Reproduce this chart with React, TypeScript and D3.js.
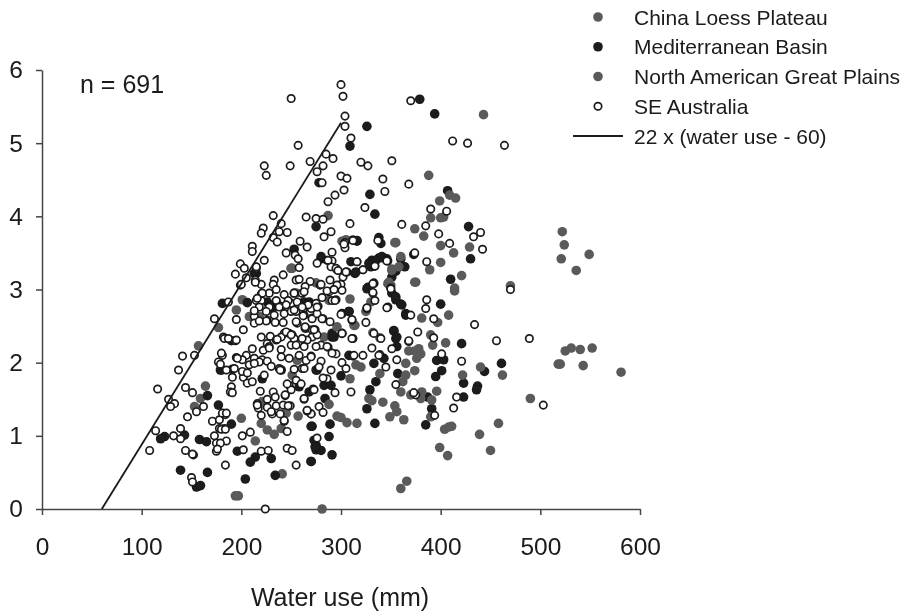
import { useEffect, useRef } from 'react';
import * as d3 from 'd3';

type Pt = [number, number];

// water use (mm), yield (t/ha)
const chinaLoess: Pt[] = [
  [157,2.23],[164,1.68],[159,1.51],[153,1.40],[177,2.48],[195,2.72],[201,2.86],[197,0.18],[194,0.18],[200,1.24],
  [220,1.17],[226,1.08],[233,1.02],[240,1.10],[241,0.48],[218,2.63],[214,0.93],[221,1.47],[245,1.31],[257,1.27],
  [250,3.29],[275,3.09],[255,2.95],[251,1.83],[256,2.03],[287,4.01],[281,0],
  [253,2.95],[208,2.63],[251,3.29],[250,3.29],[283,2.35],[288,2.85],[305,3.68],
];
const mediterranean: Pt[] = [
  [278,4.46],[275,3.86],[253,3.55],[215,3.22],[309,4.96],[326,5.23],[379,5.60],[394,5.40],[329,4.30],[334,4.03],
  [407,4.35],[428,3.86],[316,3.66],[338,3.71],[340,3.63],[430,3.42],[410,3.14],[373,3.48],[360,3.42],[364,3.31],
  [355,3.25],[351,3.17],[338,3.43],[343,3.43],[331,3.40],[346,3.42],[330,3.31],[310,3.38],[314,3.22],[280,3.42],
  [327,3.03],[351,2.95],[355,2.86],[360,2.80],[365,2.65],[400,2.80],[353,2.43],[355,2.33],[356,2.22],[421,2.26],
  [396,2.03],[403,2.04],[401,1.89],[395,1.81],[444,1.88],[461,1.99],[423,1.72],[437,1.68],[436,1.63],[423,1.53],
  [385,1.15],[391,1.37],[387,1.53],[357,1.85],[335,1.74],[329,1.63],[326,1.37],[334,1.17],[289,1.16],[271,1.13],
  [288,0.99],[275,0.87],[275,0.81],[280,0.80],[291,0.74],[270,0.65],[308,2.70],[291,2.35],[308,2.10],[333,1.99],
  [343,2.06],[276,1.90],[300,1.82],[283,1.69],[290,1.69],[284,1.51],[268,1.60],[181,2.81],[206,2.82],[190,2.30],
  [179,1.90],[191,1.91],[166,1.55],[177,1.42],[190,1.16],[143,1.01],[123,0.99],[119,0.96],[158,0.95],[165,0.92],
  [139,0.53],[155,0.30],[159,0.32],[166,0.50],[204,0.41],[196,0.79],[214,0.71],[209,0.64],[230,0.69],[234,0.46],
  [270,0.65],[270,1.13],[226,2.83],[231,2.74],[240,1.90],[221,1.78],[275,1.90],[258,1.67],[273,0.94],[274,0.85],
  [228,2.76],[235,2.83],[213,3.22],[293,2.35],[301,2.40],[301,2.67],[180,1.90],[335,3.40],[341,3.45],[328,3.36],
  [315,3.24],[326,3.01],[355,2.90],[361,2.79],[365,2.67],[308,2.70],[280,3.45],[353,2.44],[356,2.35],[291,2.40],
  [263,2.83],[268,2.83],[316,3.67],
];
const greatPlains: Pt[] = [
  [443,5.39],[388,4.56],[409,4.29],[415,4.25],[399,4.21],[390,3.98],[400,3.98],[403,3.99],[374,3.83],[383,3.73],
  [301,3.66],[355,3.64],[400,3.60],[429,3.58],[413,3.50],[400,3.37],[421,3.19],[414,3.02],[375,3.10],[389,3.27],
  [351,3.28],[347,3.08],[470,3.05],[522,3.79],[524,3.61],[521,3.42],[549,3.48],[536,3.26],[414,2.98],[408,2.65],
  [381,2.61],[397,2.55],[405,2.27],[390,2.38],[392,2.24],[365,1.99],[368,2.16],[378,2.19],[374,2.16],[380,2.12],
  [376,2.06],[440,1.94],[462,1.83],[422,1.83],[396,1.61],[525,2.16],[531,2.20],[540,2.18],[552,2.20],[518,1.98],
  [520,1.98],[543,1.96],[581,1.87],[490,1.51],[458,1.17],[439,1.02],[450,0.80],[399,0.84],[407,0.73],[404,1.09],
  [408,1.12],[411,1.13],[390,1.26],[391,1.49],[381,1.60],[370,1.56],[380,1.51],[360,1.60],[362,1.74],[365,1.83],
  [374,1.89],[339,1.85],[331,1.48],[328,1.51],[342,1.46],[354,1.41],[349,1.26],[356,1.33],[363,1.22],[316,1.17],
  [306,1.18],[300,1.25],[296,1.27],[366,0.38],[360,0.28],[309,2.87],[314,2.51],[332,2.41],[296,2.49],[320,1.94],
  [315,1.97],[309,1.78],[288,1.43],[350,3.06],
  [325,2.70],[330,2.83],[348,3.10],[351,3.26],[358,3.31],[374,3.10],[354,3.64],[360,3.45],[339,2.34],[313,2.51],
];
const seAustralia: Pt[] = [
  [250,5.61],[257,4.97],[223,4.69],[225,4.56],[249,4.69],[269,4.75],[276,4.61],[232,4.01],[265,3.99],[275,3.97],
  [222,3.84],[220,3.77],[240,3.90],[238,3.79],[246,3.78],[232,3.71],[236,3.65],[259,3.66],[266,3.58],[211,3.59],
  [211,3.52],[245,3.50],[254,3.47],[257,3.42],[276,3.36],[223,3.40],[199,3.35],[194,3.21],[203,3.29],[205,3.16],
  [215,3.29],[214,3.13],[258,3.30],[242,3.20],[233,3.13],[255,3.13],[258,3.14],[269,3.11],[220,3.07],[232,3.07],
  [199,3.06],[264,3.04],
  [300,5.80],[302,5.64],[304,5.37],[304,5.23],[310,5.07],[370,5.58],[412,5.03],[427,5.00],[464,4.97],[285,4.85],
  [292,4.79],[282,4.69],[281,4.46],[320,4.74],[327,4.69],[351,4.76],[300,4.55],[306,4.52],[342,4.51],[344,4.34],
  [368,4.44],[303,4.36],[294,4.29],[287,4.20],[324,4.12],[390,4.10],[406,4.07],[282,3.96],[309,3.90],[361,3.89],
  [385,3.87],[398,3.76],[440,3.78],[433,3.72],[290,3.79],[283,3.72],[304,3.64],[304,3.57],[312,3.68],[337,3.67],
  [409,3.63],[442,3.55],[374,3.50],[386,3.38],[347,3.39],[334,3.32],[322,3.27],[316,3.38],[306,3.24],[302,3.17],
  [296,3.27],[291,3.39],[291,3.51],[286,3.40],[290,3.31],[289,3.13],[300,3.07],[333,3.09],[350,3.02],
  [470,3.00],[386,2.86],[385,2.74],[393,2.60],[434,2.52],[456,2.30],[489,2.33],[377,2.42],[393,2.34],[368,2.29],
  [351,2.19],[356,2.04],[401,2.12],[421,2.02],[416,1.53],[413,1.38],[394,1.28],[375,1.56],[373,1.59],[503,1.42],
  [345,1.94],[355,1.70],[279,3.06],[293,3.00],[301,2.99],[333,3.08],[332,2.95],[334,2.85],[350,3.01],[347,2.76],
  [370,2.65],[281,2.89],[295,2.86],[291,2.85],[326,2.74],[300,2.66],[311,2.58],[325,2.55],[340,2.33],[331,2.20],
  [339,2.11],[322,2.10],[312,2.09],[312,2.33],[301,2.40],[282,2.60],[289,2.56],[271,2.61],[277,2.77],[274,2.45],
  [271,2.35],[280,2.24],[287,2.21],[295,2.12],[301,2.00],[305,1.92],[270,2.09],[280,2.02],[290,1.90],[310,1.60],
  [294,1.59],[286,1.78],[282,1.79],[272,1.64],[278,1.40],[282,1.32],[270,1.30],
  [200,3.07],[187,2.83],[195,2.59],[173,2.60],[202,2.45],[182,2.35],[194,2.30],[153,2.10],[141,2.09],[137,1.90],
  [181,2.10],[177,2.01],[195,2.07],[185,1.90],[191,1.80],[144,1.66],[151,1.59],[116,1.64],[162,1.40],[155,1.33],
  [146,1.26],[127,1.50],[133,1.44],[129,1.40],[184,1.29],[171,1.20],[178,1.22],[183,1.10],[190,1.67],[189,1.60],
  [191,1.59],[139,1.10],[114,1.07],[132,1.00],[139,0.96],[108,0.80],[144,0.80],[152,0.74],[150,0.43],[151,0.37],
  [173,1.00],[178,1.10],[175,0.90],[185,0.93],[175,0.79],[184,0.60],[202,0.81],[201,1.00],[209,1.05],[224,0],
  [220,0.79],[227,0.80],[255,0.60],[246,0.83],[251,0.80],[246,1.06],[243,1.20],[270,1.30],[266,1.34],[263,1.50],
  [273,1.63],[276,0.97],
  [220,2.94],[228,2.95],[243,2.93],[215,2.85],[220,2.85],[235,2.85],[228,2.76],[240,2.77],[250,2.81],[256,2.83],
  [261,2.95],[268,2.79],[275,2.81],[218,2.76],[225,2.70],[233,2.65],[243,2.67],[255,2.70],[262,2.72],[270,2.74],
  [213,2.63],[213,2.54],[226,2.58],[234,2.55],[242,2.55],[256,2.54],[265,2.47],[271,2.60],[276,2.67],[248,2.40],
  [243,2.40],[220,2.35],[229,2.36],[240,2.35],[251,2.38],[271,2.45],[276,2.38],[226,2.26],[235,2.31],[211,2.19],
  [222,2.17],[228,2.22],[240,2.18],[250,2.24],[258,2.26],[266,2.31],[275,2.22],[205,2.10],[213,2.06],[221,2.04],
  [201,2.04],[218,2.01],[226,2.02],[230,1.95],[248,2.06],[258,2.10],[265,2.03],[270,2.08],[253,1.91],[261,1.92],
  [208,1.97],[213,1.99],[202,1.80],[206,1.72],[211,1.74],[223,1.83],[255,1.76],[248,1.69],[260,1.71],[219,1.61],
  [226,1.50],[232,1.60],[234,1.53],[244,1.55],[250,1.63],[216,1.44],[217,1.38],[220,1.28],[226,1.39],[231,1.30],
  [235,1.41],[239,1.30],[242,1.42],[249,1.41],
  [215,3.31],[214,3.10],[235,3.00],[221,2.95],[216,2.88],[247,2.85],[263,2.97],[280,3.07],[296,3.06],[295,3.29],
  [305,3.24],[288,2.97],[294,2.85],[238,2.76],[245,2.79],[213,2.71],[225,2.57],[218,2.57],[250,2.70],[263,2.65],
  [264,2.47],[273,2.45],[245,2.42],[236,2.32],[253,2.33],[263,2.22],[240,2.08],[228,2.20],[196,2.06],[180,2.13],
  [179,1.98],[183,2.33],[187,2.33],[195,2.31],[201,1.88],[238,1.92],[278,1.94],[291,2.13],[297,3.26],[287,3.40],
  [305,3.24],[286,2.98],[293,3.00],[253,2.95],[267,2.79],[276,2.76],[261,2.76],[253,2.72],[262,2.64],[281,2.60],
  [264,2.49],[255,2.56],[250,2.38],[261,2.33],[255,2.24],[286,2.22],[311,2.33],[311,2.59],[326,2.75],[332,3.08],
  [332,2.96],[346,2.75],[316,3.38],[334,3.32],[346,3.39],[322,3.27],[312,3.67],[303,3.62],[333,2.40],[368,2.30],
  [313,2.10],[338,2.10],[193,1.92],[206,1.86],[239,1.90],[263,1.92],[246,1.71],[244,1.56],[263,1.51],[216,1.42],
  [230,1.33],[247,1.41],[243,1.21],[266,1.35],[181,1.31],[185,1.31],[180,1.09],[184,1.09],[179,0.90],[176,0.82],
  [151,0.75],
];
const xTicks = [0, 100, 200, 300, 400, 500, 600];
const yTicks = [0, 1, 2, 3, 4, 5, 6];
const legendLabels = ['China Loess Plateau', 'Mediterranean Basin', 'North American Great Plains', 'SE Australia'];
const lineLabel = '22 x (water use - 60)';
const lineEnds = [60, 300]; // water use range of the fitted line

const FONT = '"Liberation Sans", Arial, sans-serif';
const GREY = '#5a5a5a';
const BLACK = '#1a1a1a';

export default function App() {
  const svgRef = useRef<SVGSVGElement>(null);

  useEffect(() => {
    const svg = d3.select(svgRef.current);
    svg.selectAll('*').remove();

    // the source is a slightly soft scan
    svg.append('defs').append('filter')
      .attr('id', 'soft')
      .attr('filterUnits', 'userSpaceOnUse')
      .attr('x', 0).attr('y', 0).attr('width', 906).attr('height', 614)
      .append('feGaussianBlur')
      .attr('stdDeviation', 0.45);
    const root = svg.append('g').attr('filter', 'url(#soft)');

    const x = d3.scaleLinear().domain([0, 600]).range([42, 640]);
    const y = d3.scaleLinear().domain([0, 6]).range([509, 70]);

    const xAxis = root.append('g')
      .attr('transform', `translate(0,${y(0)})`)
      .call(d3.axisBottom(x).tickValues(xTicks).tickFormat(d3.format('d')).tickSize(6).tickSizeOuter(0).tickPadding(23));
    const yAxis = root.append('g')
      .attr('transform', `translate(${x(0)},0)`)
      .call(d3.axisLeft(y).tickValues(yTicks).tickFormat(d3.format('d')).tickSize(6).tickSizeOuter(0).tickPadding(13));

    [xAxis, yAxis].forEach(a => {
      a.selectAll('path, line').attr('stroke', '#444').attr('stroke-width', 1.5);
      a.selectAll('text')
        .attr('fill', '#1a1a1a')
        .style('font-family', FONT)
        .style('font-size', '24.5px');
    });

    const drawDots = (pts: Pt[], color: string) => {
      root.append('g').selectAll('circle')
        .data(pts)
        .join('circle')
        .attr('cx', d => x(d[0]))
        .attr('cy', d => y(d[1]))
        .attr('r', 4.8)
        .attr('fill', color);
    };
    drawDots(chinaLoess, GREY);
    drawDots(mediterranean, BLACK);
    drawDots(greatPlains, GREY);

    root.append('g').selectAll('circle')
      .data(seAustralia)
      .join('circle')
      .attr('cx', d => x(d[0]))
      .attr('cy', d => y(d[1]))
      .attr('r', 3.7)
      .attr('fill', '#fff')
      .attr('stroke', BLACK)
      .attr('stroke-width', 1.7);

    const fit = d3.line<number>()
      .x(d => x(d))
      .y(d => y(0.022 * (d - 60)));
    root.append('path')
      .attr('d', fit(lineEnds))
      .attr('fill', 'none')
      .attr('stroke', BLACK)
      .attr('stroke-width', 1.8);

    const text = (tx: number, ty: number, s: string, size: number, anchor = 'start') =>
      root.append('text')
        .attr('x', tx)
        .attr('y', ty)
        .attr('text-anchor', anchor)
        .attr('fill', '#1a1a1a')
        .style('font-family', FONT)
        .style('font-size', `${size}px`)
        .text(s);

    text(80, 93, 'n = 691', 25);
    text(340, 606, 'Water use (mm)', 25, 'middle');

    // legend
    const rows = d3.scalePoint<number>().domain([0, 1, 2, 3, 4]).range([17, 136]);
    legendLabels.forEach((label, i) => {
      const cy = rows(i) as number;
      const c = root.append('circle').attr('cx', 598).attr('cy', cy);
      if (i === 3) {
        c.attr('r', 3.7).attr('fill', '#fff').attr('stroke', BLACK).attr('stroke-width', 1.7);
      } else {
        c.attr('r', 4.8).attr('fill', i === 1 ? BLACK : GREY);
      }
      text(634, cy + 7.5, label, 21);
    });
    const ly = rows(4) as number;
    root.append('line')
      .attr('x1', 573).attr('x2', 623)
      .attr('y1', ly).attr('y2', ly)
      .attr('stroke', BLACK).attr('stroke-width', 1.8);
    text(634, ly + 7.5, lineLabel, 21);
  }, []);

  return (
    <svg
      ref={svgRef}
      width={906}
      height={614}
      style={{ position: 'absolute', left: 0, top: 0, background: '#fff' }}
    />
  );
}
